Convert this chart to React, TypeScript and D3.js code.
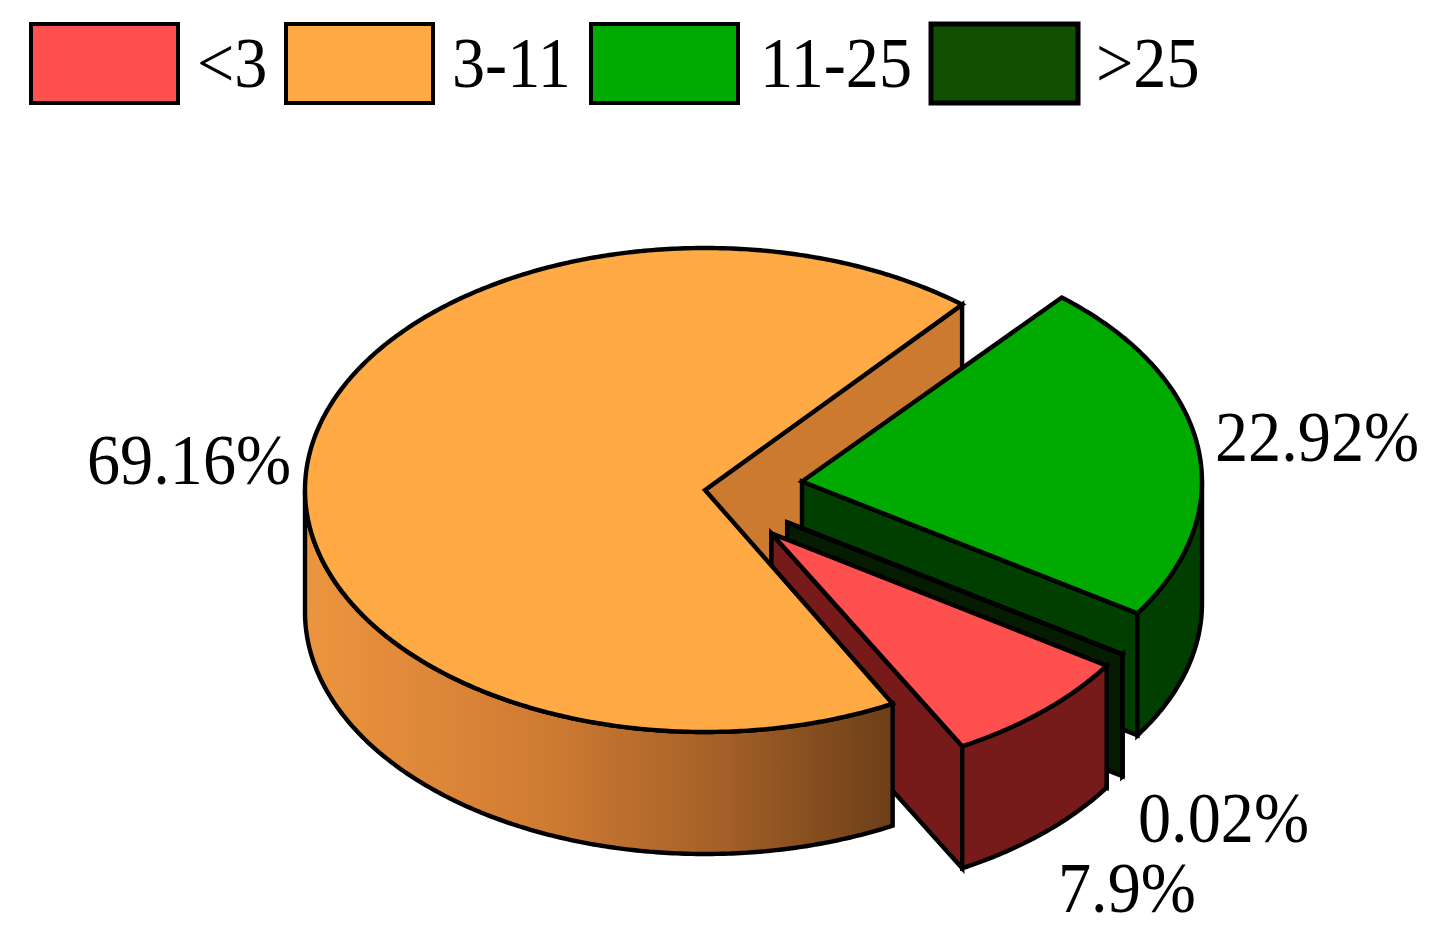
import React from "react";
import * as d3 from "d3";

const categories = ["<3", "3-11", "11-25", ">25"];
const shares = [7.9, 69.16, 22.92, 0.02];
const shareLabels = ["7.9%", "69.16%", "22.92%", "0.02%"];
const topColors = ["#FF5050", "#FFAA45", "#00AA00", "#105000"];
const wallColors = ["#771A1A", "#CC7A30", "#003F00", "#051C00"];
const explodes = [0.245, 0, 0.245, 0.245];
const trimDeg = [0, 0.5, 0, 0];
const legendX = [31, 286, 591, 931];
const legendTextX = [197, 452, 760, 1096];
const labelPos = [[1058, 912], [87, 484], [1215, 461], [1138, 842]];

const W = 1448, H = 948;
const cx = 705, cy = 490, rx = 400, ry = 242, depth = 122;
const startDeg = 123.08;
const FONT = "'Liberation Serif', 'Times New Roman', serif";
const SW = 4.4;
const FONT_SIZE = 72;
const TEXT_SQUEEZE = 0.92;

const pie = d3.pie<number>().sort(null)
  .startAngle((startDeg * Math.PI) / 180)
  .endAngle((startDeg * Math.PI) / 180 + 2 * Math.PI);
const arcs = pie(shares);

type P = [number, number];
const line = d3.line<P>().x((d) => d[0]).y((d) => d[1]);

function sliceGeom(i: number) {
  const trim = (trimDeg[i] * Math.PI) / 180;
  const a0 = arcs[i].startAngle + trim, a1 = arcs[i].endAngle - trim;
  const mid = (a0 + a1) / 2;
  const ox = cx + Math.sin(mid) * rx * explodes[i];
  const oy = cy - Math.cos(mid) * ry * explodes[i];
  const at = (a: number, dz = 0): P => [ox + Math.sin(a) * rx, oy - Math.cos(a) * ry + dz];
  const rim = (s: number, e: number, dz = 0): P[] => {
    const n = Math.max(2, Math.ceil(Math.abs(e - s) / 0.01));
    return d3.range(n + 1).map((k) => at(s + ((e - s) * k) / n, dz));
  };
  return { a0, a1, o: [ox, oy] as P, at, rim };
}

function closed(pts: P[]) {
  return line(pts) + "Z";
}

const strokeProps = { stroke: "#000", strokeWidth: SW, strokeLinejoin: "miter" as const, strokeMiterlimit: 3 };

function Slice({ i, fillOuter }: { i: number; fillOuter?: string }) {
  const g = sliceGeom(i);
  const top = closed([g.o, ...g.rim(g.a0, g.a1)]);
  const TWO = 2 * Math.PI;
  const walls: string[] = [];
  for (const shift of [0, TWO]) {
    const s = Math.max(g.a0, Math.PI / 2 + shift);
    const e = Math.min(g.a1, (3 * Math.PI) / 2 + shift);
    if (e > s) {
      walls.push(closed([...g.rim(s, e), ...g.rim(s, e, depth).reverse()]));
    }
  }
  const cutWall = (a: number) =>
    closed([g.o, g.at(a), g.at(a, depth), [g.o[0], g.o[1] + depth]]);
  const cuts: number[] = i === 1 ? [g.a1] : i === 2 ? [g.a1] : i === 3 ? [g.a0] : [g.a0, g.a1];
  return (
    <g>
      {i !== 1 && cuts.map((a, k) => <path key={k} d={cutWall(a)} fill={wallColors[i]} {...strokeProps} />)}
      {walls.map((d, k) => (
        <path key={k} d={d} fill={fillOuter ?? wallColors[i]} {...strokeProps} />
      ))}
      <path d={top} fill={i === 3 ? wallColors[3] : topColors[i]} {...strokeProps} />
    </g>
  );
}

function OrangeBackWall() {
  const g = sliceGeom(1);
  const a = g.a1;
  const d = closed([g.o, g.at(a), g.at(a, depth), [g.o[0], g.o[1] + depth]]);
  return <path d={d} fill={wallColors[1]} {...strokeProps} />;
}

function Label({ x, y, t }: { x: number; y: number; t: string }) {
  return (
    <text
      transform={`translate(${x},${y}) scale(${TEXT_SQUEEZE},1)`}
      fontFamily={FONT}
      fontSize={FONT_SIZE}
      fill="#000"
    >
      {t}
    </text>
  );
}

export default function App() {
  return (
    <svg
      width={W}
      height={H}
      viewBox={`0 0 ${W} ${H}`}
      style={{ position: "absolute", left: 0, top: 0, display: "block", background: "#fff" }}
    >
      <defs>
        <linearGradient id="orangeSide" gradientUnits="userSpaceOnUse" x1={cx - rx} x2={893} y1={0} y2={0}>
          <stop offset="0" stopColor="#EC9540" />
          <stop offset="0.42" stopColor="#CE7A32" />
          <stop offset="0.72" stopColor="#A25F27" />
          <stop offset="1" stopColor="#6C3E18" />
        </linearGradient>
      </defs>

      {categories.map((c, i) => (
        <g key={c}>
          <rect
            x={legendX[i]}
            y={24}
            width={147}
            height={79}
            fill={topColors[i]}
            stroke="#000"
            strokeWidth={i === 3 ? 5 : 4}
          />
          <Label x={legendTextX[i]} y={87} t={c} />
        </g>
      ))}

      <OrangeBackWall />
      <Slice i={2} />
      <Slice i={3} />
      <Slice i={0} />
      <Slice i={1} fillOuter="url(#orangeSide)" />

      {shareLabels.map((t, i) => (
        <Label key={t} x={labelPos[i][0]} y={labelPos[i][1]} t={t} />
      ))}
    </svg>
  );
}
